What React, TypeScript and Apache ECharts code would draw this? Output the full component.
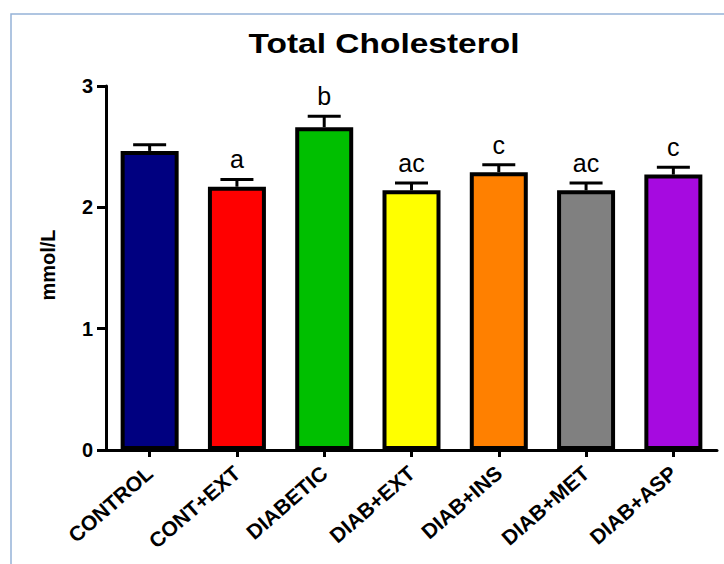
import React, { useEffect, useRef } from "react";
import * as echarts from "echarts";

const categories = ["CONTROL", "CONT+EXT", "DIABETIC", "DIAB+EXT", "DIAB+INS", "DIAB+MET", "DIAB+ASP"];
const means = [2.465, 2.17, 2.66, 2.14, 2.29, 2.14, 2.27];
const sems = [0.05, 0.06, 0.09, 0.06, 0.06, 0.06, 0.06];
const letters = ["", "a", "b", "ac", "c", "ac", "c"];
const barColors = ["#000080", "#ff0000", "#00bf00", "#ffff00", "#ff8000", "#808080", "#a60ae0"];
const yTicks = [0, 1, 2, 3];

const FONT = "Arial";

export default function App() {
  const ref = useRef<HTMLDivElement>(null);
  useEffect(() => {
    if (!ref.current) return;
    const chart = echarts.init(ref.current, undefined, { renderer: "svg" });
    const option: any = {
      animation: false,
      backgroundColor: "#ffffff",
      textStyle: { fontFamily: FONT },
      grid: { left: 106, right: 7, top: 86, bottom: 114, containLabel: false },
      graphic: [
        {
          type: "polyline",
          shape: { points: [[11, 564], [11, 14], [724, 14]] },
          style: { stroke: "#95b3d7", lineWidth: 1.5, fill: "none" },
          silent: true,
        },
        {
          type: "text",
          x: 384,
          y: 43,
          scaleX: 1.24,
          style: {
            text: "Total Cholesterol",
            fontFamily: FONT,
            fontWeight: "bold",
            fontSize: 27,
            fill: "#000",
            align: "center",
            verticalAlign: "middle",
          },
        },
        {
          type: "text",
          x: 48,
          y: 265,
          rotation: Math.PI / 2,
          style: {
            text: "mmol/L",
            fontFamily: FONT,
            fontWeight: "bold",
            fontSize: 20,
            fill: "#000",
            align: "center",
            verticalAlign: "middle",
          },
        },
      ],
      xAxis: {
        type: "category",
        data: categories,
        boundaryGap: true,
        axisLine: { show: true, lineStyle: { color: "#000", width: 3 } },
        axisTick: { show: true, alignWithLabel: true, length: 7, lineStyle: { color: "#000", width: 3 } },
        axisLabel: {
          rotate: 41,
          interval: 0,
          margin: 20,
          color: "#000",
          fontFamily: FONT,
          fontWeight: "bold",
          fontSize: 21,
        },
        splitLine: { show: false },
      },
      yAxis: {
        type: "value",
        min: yTicks[0],
        max: yTicks[yTicks.length - 1],
        interval: 1,
        axisLine: { show: true, lineStyle: { color: "#000", width: 3 } },
        axisTick: { show: true, length: 9, lineStyle: { color: "#000", width: 3 } },
        axisLabel: {
          margin: 13,
          formatter: "{t|{value}}",
          rich: {
            t: { fontFamily: FONT, fontWeight: "bold", fontSize: 20, color: "#000" },
          },
        },
        splitLine: { show: false },
      },
      series: [
        {
          type: "bar",
          barWidth: 58,
          data: means.map((v, i) => ({
            value: v,
            itemStyle: { color: barColors[i], borderColor: "#000", borderWidth: 4 },
          })),
          z: 2,
        },
        {
          type: "custom",
          z: 3,
          data: categories.map((_, i) => [i, means[i], means[i] + sems[i]]),
          renderItem: (params: any, api: any) => {
            const x = api.value(0);
            const m = api.value(1);
            const u = api.value(2);
            const p0 = api.coord([x, m]);
            const p1 = api.coord([x, u]);
            const capW = 33;
            const letter = letters[params.dataIndex];
            return {
              type: "group",
              children: [
                {
                  type: "line",
                  shape: { x1: p0[0], y1: p0[1], x2: p1[0], y2: p1[1] },
                  style: { stroke: "#000", lineWidth: 3 },
                },
                {
                  type: "line",
                  shape: { x1: p1[0] - capW / 2, y1: p1[1], x2: p1[0] + capW / 2, y2: p1[1] },
                  style: { stroke: "#000", lineWidth: 3 },
                },
                {
                  type: "text",
                  x: p1[0],
                  y: p1[1] - 20,
                  style: {
                    text: letter,
                    fontFamily: FONT,
                    fontSize: 25,
                    fill: "#000",
                    align: "center",
                    verticalAlign: "middle",
                  },
                },
              ],
            };
          },
        },
      ],
    };
    chart.setOption(option);
    return () => chart.dispose();
  }, []);
  return (
    <div
      ref={ref}
      style={{ position: "fixed", left: 0, top: 0, width: 724, height: 564, background: "#fff" }}
    />
  );
}
